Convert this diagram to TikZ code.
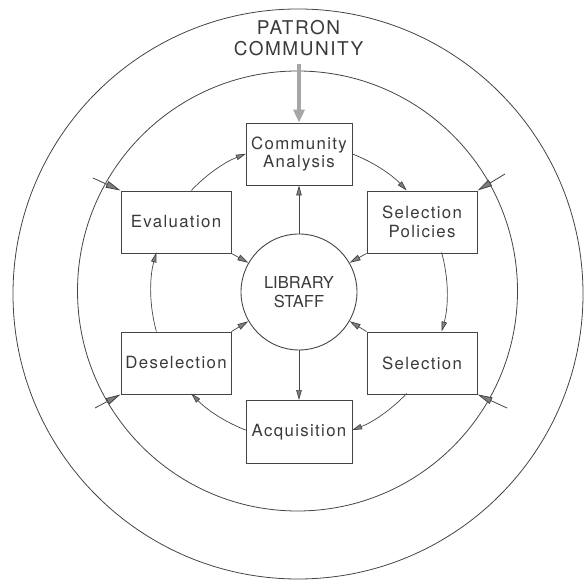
\documentclass[tikz,border=0pt]{standalone}
\usepackage{fontspec}
\setmainfont{TeX Gyre Heros}
\newfontfamily\spacedfont[LetterSpace=8]{TeX Gyre Heros}
\usetikzlibrary{arrows.meta,calc}
\definecolor{ink}{HTML}{444444}
\definecolor{txt}{HTML}{3A3A3A}
\definecolor{tipgray}{HTML}{7E7E7E}
\begin{document}
\begin{tikzpicture}[x=1pt,y=1pt,
  ring/.style={draw=ink, line width=0.8pt},
  box/.style={draw=ink, line width=0.9pt, minimum width=110pt, minimum height=62pt,
    inner sep=0pt, align=center, text=txt,
    font=\spacedfont\fontsize{16.8}{18.6}\selectfont},
  flow/.style={draw=ink, line width=0.7pt, -{Triangle[length=10pt,width=5.5pt,fill=tipgray]}},
  outer/.style={draw=ink, line width=0.8pt, -{Triangle[length=15pt,width=7pt,fill=tipgray]}},
  feed/.style={draw=ink, line width=0.7pt, -{Triangle[length=11pt,width=6pt,fill=tipgray]}}
]
\useasboundingbox (0,0) rectangle (584,580);

% rings
\draw[ring] (298,286) circle[radius=285];
\draw[ring] (297.5,289) circle[radius=220];

% title
\node[text=txt, align=center, font=\spacedfont\fontsize{19}{20.5}\selectfont] (patron) at (298.5,542) {PATRON\\COMMUNITY};

% centre
\coordinate (C) at (299,288);
\node[draw=ink, line width=0.9pt, circle, minimum size=116pt, inner sep=0pt, align=center, text=txt,
  font=\fontsize{16.5}{19}\selectfont] (staff) at (C) {LIBRARY\\STAFF};

% boxes
\node[box, minimum width=106pt] (ca) at (299,426) {Community\\Analysis};
\node[box] (sp) at (422,358) {Selection\\Policies};
\node[box] (sel) at (422,217) {Selection};
\node[box, minimum width=106pt, minimum height=63pt] (acq) at (299,148) {Acquisition};
\node[box] (des) at (176,217) {Deselection};
\node[box] (eval) at (176,358) {Evaluation};

% patron arrow
\coordinate (pin) at (299,516);
\draw[draw=gray!70, line width=4.5pt, -{Triangle[length=13pt,width=11pt,fill=gray!70]}] (pin) -- (ca.north);

% cycle arcs (radius 148 around C)
\draw[flow] ($(C)+(69:148)$) arc[start angle=69, end angle=43.3, radius=148];
\draw[flow] ($(C)+(15.5:148)$) arc[start angle=15.5, end angle=-15.5, radius=148];
\draw[flow] ($(C)+(-43.3:148)$) arc[start angle=-43.3, end angle=-69, radius=148];
\draw[flow] ($(C)+(-111:148)$) arc[start angle=-111, end angle=-136.7, radius=148];
\draw[flow] ($(C)+(195.5:148)$) arc[start angle=195.5, end angle=164.5, radius=148];
\draw[flow] ($(C)+(136.7:148)$) arc[start angle=136.7, end angle=111, radius=148];

% staff links
\draw[flow] (staff.north) -- (ca.south);
\draw[flow] (staff.south) -- (acq.north);
\draw[feed] (eval.south east) -- (staff.150);
\draw[feed] (sp.south west) -- (staff.30);
\draw[feed] (des.north east) -- (staff.210);
\draw[feed] (sel.north west) -- (staff.-30);

% patron community links crossing the inner ring
\coordinate (oe) at (93,402);
\coordinate (osp) at (505,406);
\coordinate (osel) at (507,172);
\coordinate (odes) at (95,172);
\draw[outer] (oe) -- (eval.north west);
\draw[outer] (osp) -- (sp.north east);
\draw[outer] (osel) -- (sel.south east);
\draw[outer] (odes) -- (des.south west);
\end{tikzpicture}
\end{document}
